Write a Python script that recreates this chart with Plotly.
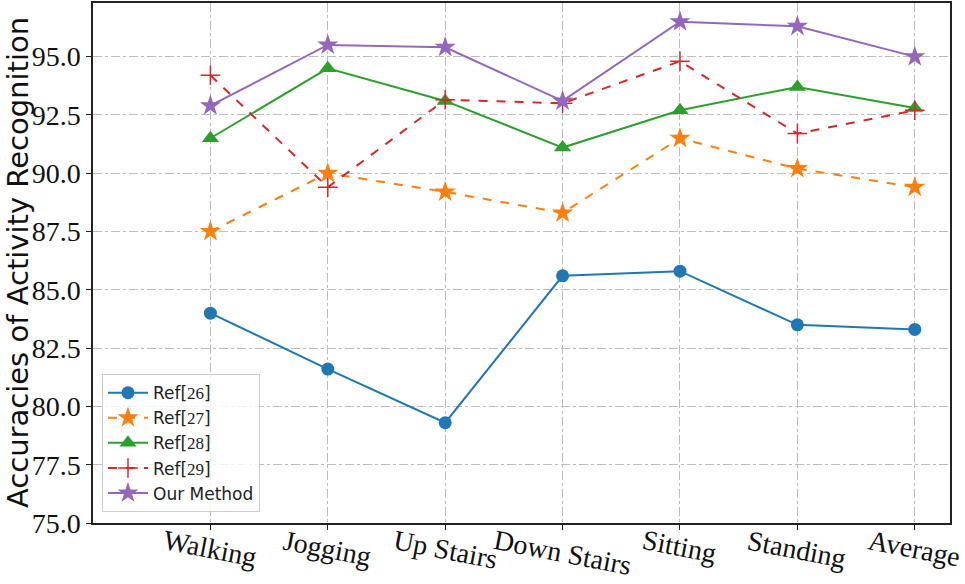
import plotly.graph_objects as go

categories = ["Walking", "Jogging", "Up Stairs", "Down Stairs", "Sitting", "Standing", "Average"]
ref26 = [84.0, 81.6, 79.3, 85.6, 85.8, 83.5, 83.3]
ref27 = [87.5, 90.0, 89.2, 88.3, 91.5, 90.2, 89.4]
ref28 = [91.5, 94.5, 93.1, 91.1, 92.7, 93.7, 92.8]
ref29 = [94.2, 89.4, 93.15, 93.0, 94.8, 91.7, 92.7]
ours = [92.9, 95.5, 95.4, 93.1, 96.5, 96.3, 95.0]
yticks = [75.0, 77.5, 80.0, 82.5, 85.0, 87.5, 90.0, 92.5, 95.0]

x = list(range(len(categories)))
serif = "Liberation Serif"

def lab(n):
    return f"Ref[<span style='font-family:{serif}'>{n}</span>]"

fig = go.Figure()
fig.add_trace(go.Scatter(x=x, y=ref26, name=lab(26), mode="lines+markers",
                         line=dict(color="#1f77b4", width=2),
                         marker=dict(symbol="circle", size=13, color="#1f77b4")))
fig.add_trace(go.Scatter(x=x, y=ref27, name=lab(27), mode="lines+markers",
                         line=dict(color="#ff7f0e", width=2, dash="dash"),
                         marker=dict(symbol="star", size=16, color="#ff7f0e")))
fig.add_trace(go.Scatter(x=x, y=ref28, name=lab(28), mode="lines+markers",
                         line=dict(color="#2ca02c", width=2),
                         marker=dict(symbol="triangle-up", size=15, color="#2ca02c")))
fig.add_trace(go.Scatter(x=x, y=ref29, name=lab(29), mode="lines+markers",
                         line=dict(color="#d62728", width=2, dash="dash"),
                         marker=dict(symbol="cross-thin", size=14, color="#d62728",
                                     line=dict(color="#d62728", width=1.5))))
fig.add_trace(go.Scatter(x=x, y=ours, name="Our Method", mode="lines+markers",
                         line=dict(color="#9467bd", width=2),
                         marker=dict(symbol="star", size=16, color="#9467bd")))

axis_common = dict(showline=True, linecolor="#222", linewidth=1.5, mirror=True,
                   ticks="outside", ticklen=5, tickcolor="#222",
                   showgrid=True, gridcolor="#bdbdbd", griddash="dashdot", gridwidth=1,
                   zeroline=False, automargin=False)

xlabel_annotations = [
    dict(text=c, x=xi, xref="x", y=0.002, yref="paper", textangle=11,
         xanchor="center", yanchor="top", showarrow=False,
         font=dict(family=serif, size=28, color="#111"))
    for xi, c in zip(x, categories)
]

fig.update_layout(
    width=965, height=584,
    margin=dict(l=93, r=15, t=3, b=61),
    paper_bgcolor="white", plot_bgcolor="white",
    xaxis=dict(tickmode="array", tickvals=x, showticklabels=False, range=[-1.0, 6.3],
               **axis_common),
    yaxis=dict(tickmode="array", tickvals=yticks, ticktext=[f"{v:.1f}" for v in yticks],
               range=[75.0, 97.3], tickfont=dict(family=serif, size=28, color="#111"),
               **axis_common),
    legend=dict(x=0.0105, y=0.021, xanchor="left", yanchor="bottom",
                bgcolor="rgba(255,255,255,0.8)", bordercolor="#ccc", borderwidth=1,
                font=dict(family="DejaVu Sans", size=17, color="#222"),
                tracegroupgap=0, itemwidth=40),
    showlegend=True,
    annotations=[dict(text="Accuracies of Activity Recognition", textangle=-90,
                      xref="paper", yref="paper", x=-0.0875, y=0.5,
                      xanchor="center", yanchor="middle", showarrow=False,
                      font=dict(family="DejaVu Sans", size=29, color="#111"))]
                + xlabel_annotations,
)

fig.write_html("out.html", config={"displayModeBar": False},
               post_script="document.body.style.margin='0';")
